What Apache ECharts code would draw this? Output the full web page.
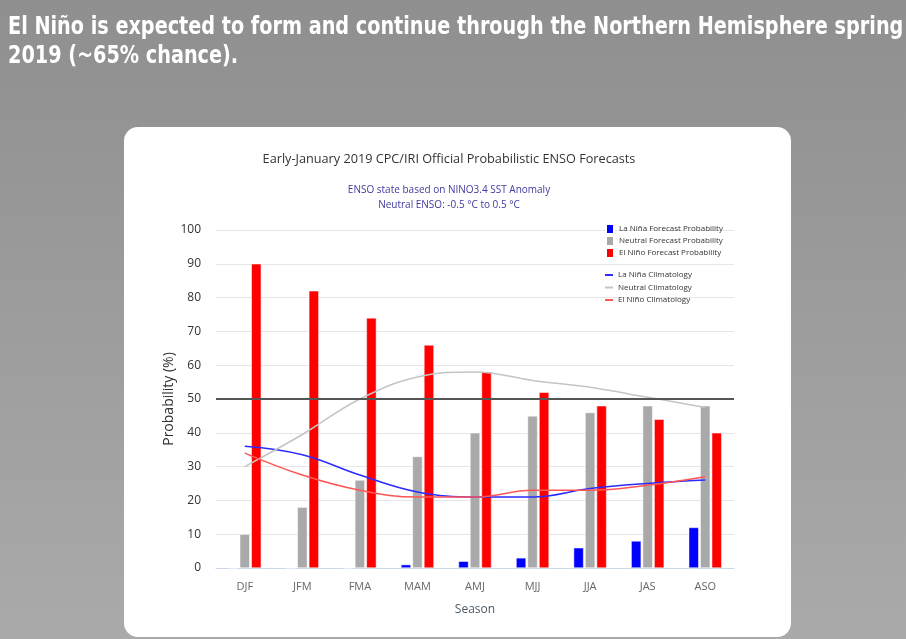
<!DOCTYPE html>
<html>
<head>
<meta charset="utf-8">
<script src="https://cdn.jsdelivr.net/npm/echarts@6/dist/echarts.min.js"></script>
<style>
  html, body { margin: 0; padding: 0; }
  #chart { width: 906px; height: 639px; }
</style>
</head>
<body>
<div id="chart"></div>
<script>
const seasons = ['DJF', 'JFM', 'FMA', 'MAM', 'AMJ', 'MJJ', 'JJA', 'JAS', 'ASO'];

// forecast probabilities (%)
const laNinaProb = [0, 0, 0, 1, 2, 3, 6, 8, 12];
const neutralProb = [10, 18, 26, 33, 40, 45, 46, 48, 48];
const elNinoProb = [90, 82, 74, 66, 58, 52, 48, 44, 40];

// climatology (%)
const laNinaClim = [36, 33.5, 27.5, 22.5, 21, 21, 23.5, 25, 26];
const neutralClim = [30, 39.5, 50, 56.5, 58, 55.5, 53.5, 50.5, 47.5];
const elNinoClim = [34, 27.5, 23, 21, 21, 23, 23, 24.5, 27];

const chart = echarts.init(document.getElementById('chart'));
const font = '"Open Sans", "DejaVu Sans", sans-serif';

const bar = (name, data, color) => ({
    name,
    type: 'bar',
    data,
    barWidth: 10,
    barGap: '15%',
    itemStyle: { color, borderColor: '#fff', borderWidth: 0.5 }
});

const line = (name, data, color) => ({
    name,
    type: 'line',
    data,
    smooth: 0.4,
    symbol: 'none',
    z: 4,
    lineStyle: { color, width: 1.5 },
    itemStyle: { color }
});

chart.setOption({
    backgroundColor: {
        type: 'linear', x: 0, y: 0, x2: 0, y2: 1,
        colorStops: [{ offset: 0, color: '#8f8f8f' }, { offset: 1, color: '#aaaaaa' }]
    },
    animation: false,
    graphic: [
        {
            type: 'rect', left: 124, top: 127, z: -10,
            shape: { width: 667, height: 510, r: 14 },
            style: { fill: '#fff' }
        },
        {
            type: 'text', x: 8, y: 13, scaleX: 0.855,
            style: {
                text: 'El Niño is expected to form and continue through the Northern Hemisphere spring\n2019 (~65% chance).',
                font: 'bold 25px "DejaVu Sans Condensed", sans-serif',
                fill: '#fff',
                lineHeight: 29
            }
        }
    ],
    title: [
        {
            text: 'Early-January 2019 CPC/IRI Official Probabilistic ENSO Forecasts',
            left: 444, top: 148, textAlign: 'center',
            textStyle: { fontFamily: font, fontSize: 12.7, fontWeight: 'normal', color: '#333' }
        },
        {
            text: 'ENSO state based on NINO3.4 SST Anomaly\nNeutral ENSO: -0.5 °C to 0.5 °C',
            left: 444, top: 178, textAlign: 'center',
            textStyle: { fontFamily: font, fontSize: 10, fontWeight: 'normal', color: '#3f3a9e', lineHeight: 15 }
        }
    ],
    legend: [
        {
            orient: 'vertical', left: 600, top: 218,
            itemWidth: 8, itemHeight: 10, itemGap: 0,
            textStyle: { fontFamily: font, fontSize: 8, color: '#333', lineHeight: 10 },
            data: [
                { name: 'La Niña Forecast Probability', icon: 'rect' },
                { name: 'Neutral Forecast Probability', icon: 'rect' },
                { name: 'El Niño Forecast Probability', icon: 'rect' }
            ]
        },
        {
            orient: 'vertical', left: 600, top: 265,
            itemWidth: 8, itemHeight: 2, itemGap: 2.5,
            textStyle: { fontFamily: font, fontSize: 8, color: '#333', lineHeight: 10 },
            data: [
                { name: 'La Niña Climatology', icon: 'rect' },
                { name: 'Neutral Climatology', icon: 'rect' },
                { name: 'El Niño Climatology', icon: 'rect' }
            ]
        }
    ],
    grid: { left: 216, right: 172, top: 230, bottom: 71 },
    xAxis: {
        type: 'category',
        data: seasons,
        name: 'Season',
        nameLocation: 'middle',
        nameGap: 36,
        nameTextStyle: { fontFamily: font, fontSize: 12, color: '#4d5a66' },
        axisLine: { lineStyle: { color: '#ccd6eb', width: 1 } },
        axisTick: { length: 10, lineStyle: { color: '#ccd6eb' } },
        axisLabel: { fontFamily: font, fontSize: 11, color: '#666', margin: 13 }
    },
    yAxis: {
        type: 'value',
        min: 0, max: 100, interval: 10,
        name: 'Probability (%)',
        nameLocation: 'middle',
        nameGap: 40,
        nameMoveOverlap: false,
        nameTextStyle: { fontFamily: font, fontSize: 14, color: '#333' },
        axisLine: { show: false },
        axisTick: { show: false },
        axisLabel: { fontFamily: font, fontSize: 12, color: '#333', margin: 15 },
        splitLine: { lineStyle: { color: '#e6e6e6' } }
    },
    series: [
        Object.assign(bar('La Niña Forecast Probability', laNinaProb, '#0000ff'), {
            markLine: {
                silent: true,
                symbol: 'none',
                label: { show: false },
                lineStyle: { color: '#555', width: 2, type: 'solid' },
                data: [{ yAxis: 50 }]
            }
        }),
        bar('Neutral Forecast Probability', neutralProb, '#a9a9a9'),
        bar('El Niño Forecast Probability', elNinoProb, '#ff0000'),
        line('La Niña Climatology', laNinaClim, '#2b2bff'),
        line('Neutral Climatology', neutralClim, '#c4c4c4'),
        line('El Niño Climatology', elNinoClim, '#ff5555')
    ]
});
</script>
</body>
</html>
